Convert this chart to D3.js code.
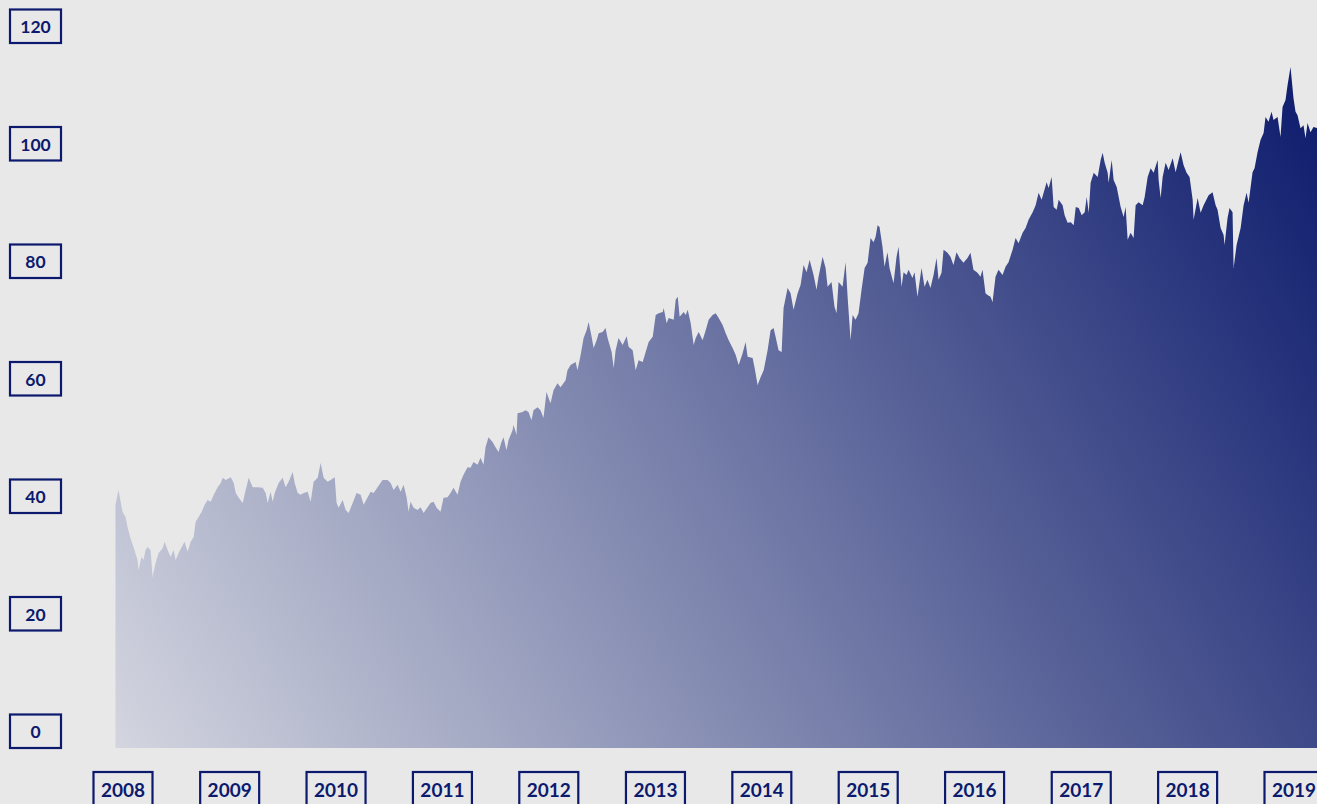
<!DOCTYPE html>
<html>
<head>
<meta charset="utf-8">
<script src="https://cdn.jsdelivr.net/npm/d3@7"></script>
<style>
  html, body { margin: 0; padding: 0; background: #e8e8e8; }
  svg { display: block; }
</style>
</head>
<body>
<svg id="chart" width="1317" height="804"></svg>
<script>
// ---- data (decimal years and prices) ----
const years = [
  // 2008
  2007.934, 2007.962, 2008.000, 2008.028, 2008.047, 2008.075, 2008.103, 2008.141, 2008.150, 2008.178,
  2008.197, 2008.216, 2008.235, 2008.263, 2008.282, 2008.310, 2008.338, 2008.376, 2008.395, 2008.423,
  2008.451, 2008.479, 2008.498, 2008.526, 2008.564, 2008.582, 2008.611, 2008.639, 2008.667, 2008.686,
  2008.714, 2008.742, 2008.770, 2008.798, 2008.827, 2008.855, 2008.892, 2008.921, 2008.939, 2008.968,
  // 2009
  2009.015, 2009.043, 2009.062, 2009.090, 2009.127, 2009.155, 2009.184, 2009.221, 2009.268, 2009.315,
  2009.343, 2009.362, 2009.390, 2009.409, 2009.428, 2009.465, 2009.503, 2009.531, 2009.559, 2009.597,
  2009.616, 2009.644, 2009.672, 2009.700, 2009.738, 2009.766, 2009.794, 2009.832, 2009.860, 2009.888,
  2009.926, 2009.954, 2009.992,
  // 2010
  2010.010, 2010.029, 2010.067, 2010.095, 2010.123, 2010.161, 2010.198, 2010.236, 2010.264, 2010.302,
  2010.330, 2010.358, 2010.395, 2010.442, 2010.489, 2010.518, 2010.546, 2010.583, 2010.612, 2010.640,
  2010.668, 2010.687, 2010.705, 2010.734, 2010.771, 2010.799, 2010.828, 2010.865, 2010.893, 2010.922,
  2010.950, 2010.987,
  // 2011
  2011.015, 2011.053, 2011.081, 2011.109, 2011.147, 2011.175, 2011.203, 2011.241, 2011.269, 2011.297,
  2011.335, 2011.363, 2011.391, 2011.410, 2011.438, 2011.476, 2011.504, 2011.532, 2011.560, 2011.579,
  2011.607, 2011.626, 2011.664, 2011.673, 2011.701, 2011.711, 2011.758, 2011.786, 2011.814, 2011.842,
  2011.861, 2011.899, 2011.927, 2011.955, 2011.983,
  // 2012
  2012.002, 2012.021, 2012.049, 2012.086, 2012.115, 2012.162, 2012.180, 2012.209, 2012.256, 2012.274,
  2012.303, 2012.331, 2012.359, 2012.378, 2012.406, 2012.425, 2012.453, 2012.472, 2012.509, 2012.537,
  2012.556, 2012.594, 2012.613, 2012.631, 2012.659, 2012.697, 2012.735, 2012.753, 2012.791, 2012.819,
  2012.847, 2012.885, 2012.913, 2012.941, 2012.979,
  // 2013
  2013.007, 2013.035, 2013.073, 2013.082, 2013.110, 2013.129, 2013.176, 2013.195, 2013.214, 2013.232,
  2013.270, 2013.289, 2013.308, 2013.336, 2013.364, 2013.383, 2013.411, 2013.448, 2013.477, 2013.505,
  2013.542, 2013.571, 2013.599, 2013.636, 2013.665, 2013.693, 2013.730, 2013.759, 2013.787, 2013.824,
  2013.852, 2013.871, 2013.918, 2013.937, 2013.965, 2013.993,
  // 2014
  2014.022, 2014.059, 2014.087, 2014.115, 2014.134, 2014.162, 2014.191, 2014.209, 2014.247, 2014.275,
  2014.303, 2014.341, 2014.369, 2014.397, 2014.425, 2014.454, 2014.491, 2014.519, 2014.538, 2014.576,
  2014.604, 2014.623, 2014.660, 2014.688, 2014.707, 2014.726, 2014.764, 2014.792, 2014.811, 2014.839,
  2014.858, 2014.886, 2014.914, 2014.942, 2014.971, 2014.999,
  // 2015
  2015.027, 2015.055, 2015.074, 2015.093, 2015.111, 2015.139, 2015.158, 2015.186, 2015.205, 2015.243,
  2015.271, 2015.290, 2015.318, 2015.337, 2015.365, 2015.384, 2015.421, 2015.440, 2015.468, 2015.506,
  2015.534, 2015.562, 2015.590, 2015.619, 2015.647, 2015.666, 2015.694, 2015.713, 2015.750, 2015.778,
  2015.806, 2015.835, 2015.863, 2015.900, 2015.938, 2015.966, 2015.994,
  // 2016
  2016.032, 2016.060, 2016.079, 2016.107, 2016.126, 2016.154, 2016.173, 2016.201, 2016.229, 2016.267,
  2016.295, 2016.323, 2016.361, 2016.389, 2016.417, 2016.455, 2016.483, 2016.511, 2016.549, 2016.577,
  2016.605, 2016.633, 2016.652, 2016.680, 2016.699, 2016.727, 2016.746, 2016.774, 2016.793, 2016.830,
  2016.849, 2016.877, 2016.906, 2016.934, 2016.953, 2016.981,
  // 2017
  2017.009, 2017.037, 2017.056, 2017.075, 2017.093, 2017.122, 2017.159, 2017.187, 2017.206, 2017.225,
  2017.253, 2017.262, 2017.291, 2017.309, 2017.338, 2017.375, 2017.403, 2017.422, 2017.441, 2017.469,
  2017.497, 2017.516, 2017.544, 2017.582, 2017.601, 2017.629, 2017.657, 2017.685, 2017.723, 2017.732,
  2017.751, 2017.770, 2017.798, 2017.826, 2017.864, 2017.892, 2017.920, 2017.939, 2017.967, 2017.995,
  // 2018
  2018.023, 2018.052, 2018.061, 2018.099, 2018.127, 2018.155, 2018.202, 2018.239, 2018.268, 2018.286,
  2018.315, 2018.343, 2018.352, 2018.380, 2018.399, 2018.427, 2018.437, 2018.465, 2018.503, 2018.531,
  2018.559, 2018.578, 2018.615, 2018.634, 2018.662, 2018.690, 2018.719, 2018.737, 2018.765, 2018.794,
  2018.812, 2018.850, 2018.878, 2018.897, 2018.925, 2018.944, 2018.972,
  // 2019
  2019.000, 2019.019, 2019.038, 2019.066, 2019.094, 2019.113, 2019.132, 2019.160, 2019.188, 2019.226
];

const values = [
  // 2008
  41.4, 43.9, 40.2, 39.3, 37.6, 35.7, 34.2, 32.0, 30.3, 32.5,
  32.0, 33.7, 34.2, 33.7, 29.1, 31.5, 33.2, 34.0, 35.1, 33.7,
  32.5, 33.7, 32.0, 33.2, 34.5, 35.1, 33.4, 35.1, 35.9, 38.5,
  39.3, 40.2, 41.4, 42.2, 41.9, 43.1, 44.4, 45.1, 46.0, 45.6,
  // 2009
  46.1, 45.1, 43.4, 42.6, 41.7, 43.9, 46.0, 44.4, 44.4, 44.3,
  43.4, 41.7, 43.6, 41.9, 43.4, 45.1, 46.0, 44.4, 45.3, 47.0,
  45.1, 43.4, 43.1, 43.4, 43.6, 41.9, 45.3, 46.0, 48.5, 46.0,
  45.3, 45.6, 46.1,
  // 2010
  41.7, 40.9, 42.2, 40.5, 40.0, 41.7, 43.4, 43.1, 41.4, 42.7,
  43.6, 43.4, 44.4, 45.6, 45.6, 45.1, 43.9, 44.8, 43.6, 44.8,
  42.7, 40.2, 41.9, 40.9, 40.5, 41.0, 40.0, 41.0, 41.7, 41.9,
  40.9, 40.2,
  // 2011
  42.6, 42.7, 43.4, 44.3, 43.1, 45.3, 46.5, 47.8, 47.7, 48.7,
  48.2, 49.4, 48.2, 51.2, 52.9, 52.1, 51.2, 50.4, 52.1, 52.9,
  50.7, 52.4, 54.1, 55.0, 53.3, 57.0, 57.2, 57.5, 57.2, 55.8,
  57.5, 58.0, 57.5, 56.2, 60.6,
  // 2012
  59.6, 58.7, 60.9, 62.1, 61.4, 62.6, 64.3, 65.2, 65.7, 64.3,
  66.9, 69.8, 71.1, 72.5, 70.0, 68.1, 69.4, 70.6, 70.8, 71.5,
  69.8, 67.4, 64.7, 67.7, 69.8, 68.6, 70.1, 68.3, 67.7, 64.3,
  66.0, 65.7, 67.4, 69.1, 70.0,
  // 2013
  73.7, 74.0, 74.2, 74.9, 72.3, 73.2, 72.9, 76.3, 76.8, 73.4,
  74.2, 73.7, 74.6, 72.3, 68.6, 69.8, 70.8, 69.4, 71.1, 72.9,
  73.7, 74.0, 73.2, 72.0, 70.6, 69.4, 68.1, 66.9, 65.2, 67.2,
  69.1, 66.6, 66.4, 64.7, 61.8, 63.1,
  // 2014
  64.3, 67.7, 71.1, 71.5, 70.0, 67.7, 67.4, 74.9, 78.3, 77.4,
  74.6, 77.4, 78.8, 82.2, 81.0, 83.1, 80.5, 78.0, 80.2, 83.6,
  81.7, 78.5, 79.3, 75.1, 74.0, 79.3, 78.5, 82.7, 76.8, 69.4,
  73.7, 72.9, 74.0, 78.0, 81.7, 82.6,
  // 2015
  86.8, 86.1, 87.0, 89.0, 88.7, 85.3, 81.9, 84.4, 81.7, 79.1,
  83.6, 85.3, 78.5, 81.0, 80.5, 81.4, 80.0, 81.0, 76.8, 81.7,
  78.5, 79.7, 78.3, 80.5, 83.4, 79.7, 80.9, 84.8, 84.3, 83.6,
  82.2, 84.4, 83.4, 82.6, 83.4, 84.3, 81.4,
  // 2016
  80.9, 80.2, 81.4, 77.4, 77.1, 76.8, 75.9, 80.2, 81.4, 80.5,
  81.9, 82.7, 84.8, 86.8, 85.9, 87.7, 88.5, 89.9, 91.2, 92.4,
  94.5, 93.3, 94.5, 96.3, 95.3, 97.2, 92.1, 91.6, 93.3, 92.4,
  90.7, 89.4, 89.5, 89.0, 92.1, 91.9,
  // 2017
  90.7, 91.2, 93.8, 91.1, 96.2, 97.9, 97.2, 100.1, 101.3, 99.6,
  97.9, 96.2, 100.1, 96.7, 95.5, 92.1, 90.4, 92.1, 86.5, 87.7,
  86.8, 92.4, 92.9, 92.4, 93.8, 97.2, 98.7, 97.9, 100.1, 96.7,
  93.6, 97.2, 99.6, 98.4, 100.4, 98.0, 100.1, 101.4, 99.2, 97.9,
  // 2018
  97.2, 93.3, 89.9, 93.6, 91.1, 92.4, 94.1, 94.6, 92.4, 91.6,
  88.5, 87.3, 85.6, 90.2, 91.9, 91.2, 81.7, 85.6, 88.5, 92.4,
  94.5, 92.8, 98.0, 98.7, 101.4, 103.5, 104.7, 107.4, 106.6, 108.3,
  106.9, 107.4, 104.0, 109.1, 110.3, 112.8, 115.9,
  // 2019
  110.6, 108.3, 107.7, 105.5, 106.0, 103.8, 106.4, 104.8, 105.7, 105.5
];

const yTicks = [0, 20, 40, 60, 80, 100, 120];
const xTickYears = [2008, 2009, 2010, 2011, 2012, 2013, 2014, 2015, 2016, 2017, 2018, 2019];

// ---- helpers ----
function decimalYearToDate(t) {
  const yr = Math.floor(t);
  const a = new Date(yr, 0, 1), b = new Date(yr + 1, 0, 1);
  return new Date(+a + (t - yr) * (b - a));
}
const data = years.map((t, i) => ({ date: decimalYearToDate(t), value: values[i] }));

// ---- layout ----
const W = 1317, H = 804;
const navy = "#0c1a6e";
const font = "Lato, 'Open Sans', sans-serif";

const svg = d3.select("#chart");
svg.append("rect").attr("width", W).attr("height", H).attr("fill", "#e8e8e8");

const x = d3.scaleTime()
  .domain([new Date(2008, 0, 1), new Date(2019, 0, 1)])
  .range([122.5, 1293.5]);
const y = d3.scaleLinear().domain([0, 120]).range([748, 43]);

// gradient
const defs = svg.append("defs");
const grad = defs.append("linearGradient")
  .attr("id", "areaGrad")
  .attr("gradientUnits", "userSpaceOnUse")
  .attr("x1", x(data[0].date)).attr("y1", y(0))
  .attr("x2", x(data[data.length - 1].date)).attr("y2", y(120));
grad.append("stop").attr("offset", 0).attr("stop-color", "#d3d5df");
grad.append("stop").attr("offset", 1).attr("stop-color", "#0a196b");

const area = d3.area()
  .x(d => x(d.date))
  .y0(y(0))
  .y1(d => y(d.value));

svg.append("path")
  .datum(data)
  .attr("d", area)
  .attr("fill", "url(#areaGrad)");

// y axis
const yAxis = svg.append("g")
  .call(d3.axisLeft(y).tickValues(yTicks).tickFormat(d3.format("d")).tickSize(0));
yAxis.select(".domain").remove();
yAxis.selectAll(".tick line").remove();
yAxis.selectAll(".tick").each(function () {
  const g = d3.select(this);
  g.insert("rect", "text")
    .attr("x", 10).attr("y", -34)
    .attr("width", 51).attr("height", 33.5)
    .attr("fill", "none").attr("stroke", navy).attr("stroke-width", 2.2);
  g.select("text")
    .attr("x", 35.5).attr("y", -16.5).attr("dy", "0.36em")
    .attr("text-anchor", "middle")
    .attr("fill", navy)
    .style("font-family", font).style("font-size", "17.5px").style("font-weight", 700);
});

// x axis
const xAxis = svg.append("g")
  .call(d3.axisBottom(x)
    .tickValues(xTickYears.map(yr => new Date(yr, 0, 1)))
    .tickFormat(d3.timeFormat("%Y"))
    .tickSize(0));
xAxis.select(".domain").remove();
xAxis.selectAll(".tick line").remove();
xAxis.selectAll(".tick").each(function () {
  const g = d3.select(this);
  g.insert("rect", "text")
    .attr("x", -29.5).attr("y", 772)
    .attr("width", 59).attr("height", 36)
    .attr("fill", "none").attr("stroke", navy).attr("stroke-width", 2.2);
  g.select("text")
    .attr("y", 790).attr("dy", "0.36em")
    .attr("text-anchor", "middle")
    .attr("fill", navy)
    .style("font-family", font).style("font-size", "19px").style("font-weight", 700);
});
</script>
</body>
</html>
